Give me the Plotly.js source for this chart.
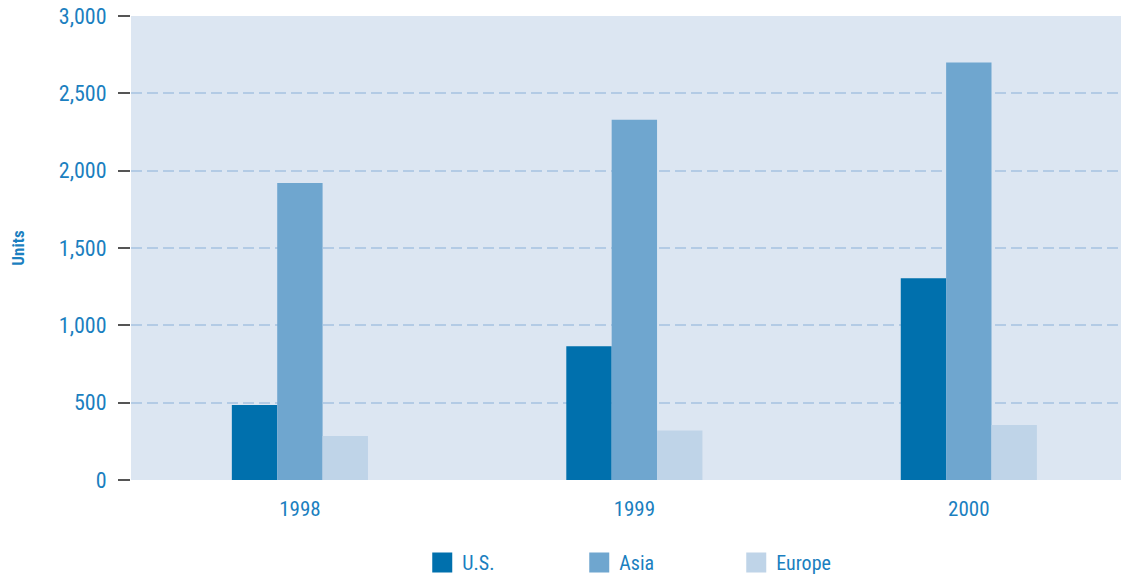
<!DOCTYPE html>
<html>
<head>
<meta charset="utf-8">
<script src="https://cdn.plot.ly/plotly-3.0.1.min.js"></script>
<style>html,body{margin:0;padding:0;background:#fff;}#chart{width:1126px;height:577px;}</style>
</head>
<body>
<div id="chart"></div>
<script>
const years = ['1998', '1999', '2000'];
const usValues = [485, 865, 1305];
const asiaValues = [1920, 2330, 2700];
const europeValues = [285, 320, 355];
const seriesNames = ['U.S.', 'Asia', 'Europe'];

const FONT = '"Liberation Sans Narrow", "Roboto Condensed", "Arial Narrow", Roboto, sans-serif';
const TXT = '#1b7fc0';

const colors = ['#0070ad', '#6fa6cf', '#bfd4e8'];
const data = [usValues, asiaValues, europeValues].map((vals, i) => ({
  type: 'bar',
  name: seriesNames[i],
  x: years,
  y: vals,
  marker: {color: colors[i], line: {width: 0}},
  hoverinfo: 'x+y+name'
}));

const layout = {
  width: 1126, height: 577,
  margin: {l: 131, r: 5, t: 16, b: 97},
  paper_bgcolor: '#ffffff',
  plot_bgcolor: '#dce6f2',
  barmode: 'group',
  bargap: 0.593,
  bargroupgap: 0,
  font: {family: FONT, color: TXT, size: 21},
  xaxis: {
    type: 'category',
    range: [-0.505, 2.455],
    showgrid: false,
    showline: false,
    zeroline: false,
    ticks: '',
    tickfont: {family: FONT, size: 21, color: TXT},
    ticklabelstandoff: 14
  },
  yaxis: {
    range: [0, 3000],
    tickvals: [0, 500, 1000, 1500, 2000, 2500, 3000],
    ticktext: ['0', '500', '1,000', '1,500', '2,000', '2,500', '3,000'],
    ticks: 'outside',
    ticklen: 12,
    tickwidth: 2,
    tickcolor: '#555555',
    showline: false,
    zeroline: false,
    showgrid: true,
    gridcolor: '#b3cbe5',
    gridwidth: 2,
    griddash: '11px,5px',
    tickfont: {family: FONT, size: 22, color: TXT},
    ticklabelstandoff: 7,
    title: {text: '<b>Units</b>', font: {family: FONT, size: 17, color: TXT}, standoff: 29}
  },
  legend: {
    orientation: 'h',
    xref: 'container', yref: 'container',
    x: 0.375, xanchor: 'left',
    y: 0.025, yanchor: 'middle',
    font: {family: FONT, size: 20, color: TXT},
    entrywidth: 112,
    entrywidthmode: 'pixels',
    itemwidth: 30,
    traceorder: 'normal'
  },
  showlegend: true
};

Plotly.newPlot('chart', data, layout, {displayModeBar: false, staticPlot: true}).then(gd => {
  document.querySelectorAll('.legendpoints path').forEach(p => {
    p.setAttribute('d', 'M10,10H-10V-10H10Z');
  });
});
</script>
</body>
</html>
